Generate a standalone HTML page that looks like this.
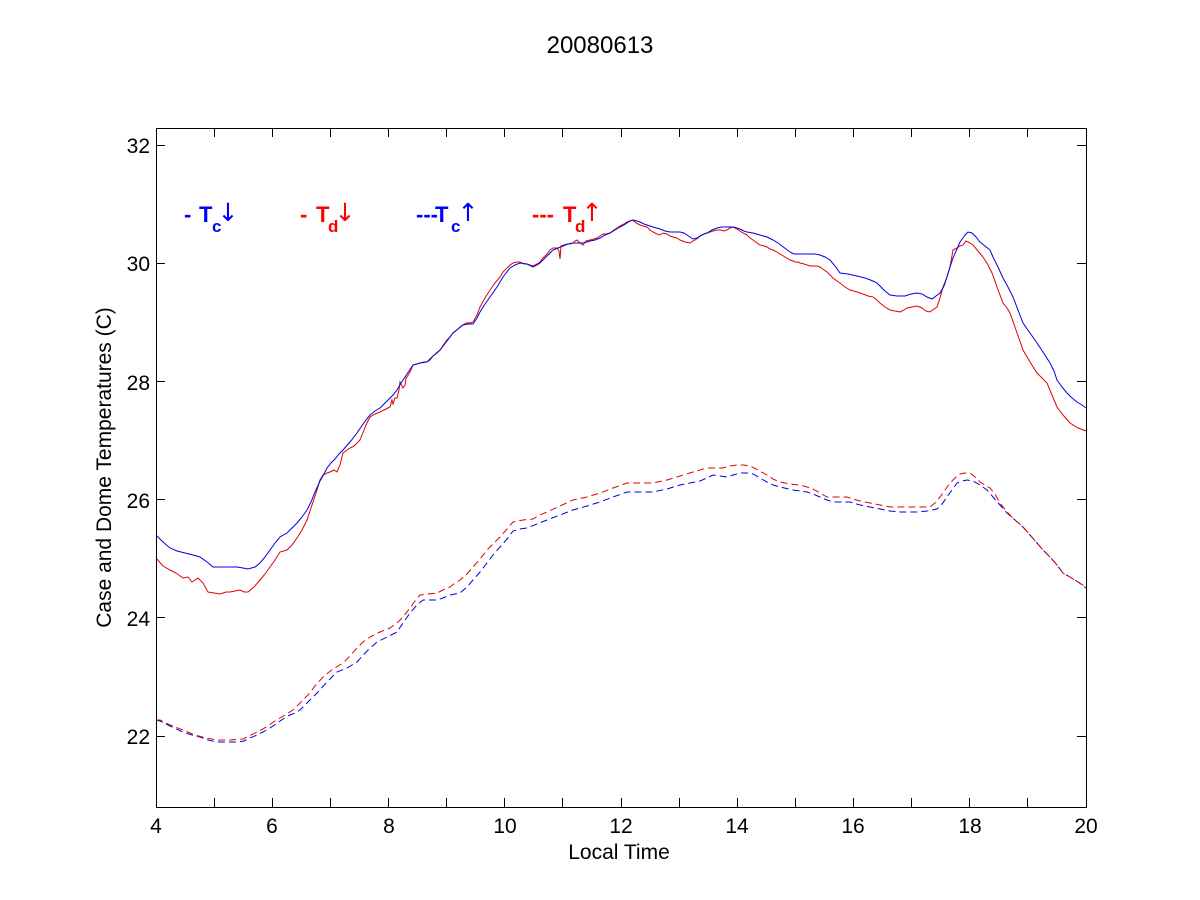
<!DOCTYPE html>
<html>
<head>
<meta charset="utf-8">
<style>
  html, body { margin:0; padding:0; background:#ffffff; }
  svg { display:block; }
  text { font-family: "Liberation Sans", Arial, sans-serif; }
  .arr { font-family: "DejaVu Sans", "Liberation Sans", sans-serif; font-weight: normal; }
</style>
</head>
<body>
<svg width="1200" height="900" viewBox="0 0 1200 900" xmlns="http://www.w3.org/2000/svg">
  <rect x="0" y="0" width="1200" height="900" fill="#ffffff"/>

  <!-- Title -->
  <text x="600" y="53" font-size="24" text-anchor="middle" fill="#000">20080613</text>

  <!-- Axes box -->
  <rect x="156.5" y="128.5" width="930" height="679" fill="none" stroke="#000" stroke-width="1"/>

  <!-- X ticks -->
  <g stroke="#000" stroke-width="1">
    <path d="M214.5 807V798 M272.5 807V798 M330.5 807V798 M388.5 807V798 M446.5 807V798 M504.5 807V798 M562.5 807V798 M621.5 807V798 M679.5 807V798 M737.5 807V798 M795.5 807V798 M853.5 807V798 M911.5 807V798 M969.5 807V798 M1027.5 807V798"/>
    <path d="M214.5 128V137 M272.5 128V137 M330.5 128V137 M388.5 128V137 M446.5 128V137 M504.5 128V137 M562.5 128V137 M621.5 128V137 M679.5 128V137 M737.5 128V137 M795.5 128V137 M853.5 128V137 M911.5 128V137 M969.5 128V137 M1027.5 128V137"/>
    <!-- Y ticks -->
    <path d="M156 736.5H165 M156 617.5H165 M156 499.5H165 M156 381.5H165 M156 263.5H165 M156 145.5H165"/>
    <path d="M1086 736.5H1077 M1086 617.5H1077 M1086 499.5H1077 M1086 381.5H1077 M1086 263.5H1077 M1086 145.5H1077"/>
  </g>

  <!-- X tick labels -->
  <g font-size="21" text-anchor="middle" fill="#000">
    <text x="156" y="833">4</text>
    <text x="272" y="833">6</text>
    <text x="389" y="833">8</text>
    <text x="505" y="833">10</text>
    <text x="621" y="833">12</text>
    <text x="737" y="833">14</text>
    <text x="853" y="833">16</text>
    <text x="970" y="833">18</text>
    <text x="1086" y="833">20</text>
  </g>
  <!-- Y tick labels -->
  <g font-size="21" text-anchor="end" fill="#000">
    <text x="150" y="744">22</text>
    <text x="150" y="626">24</text>
    <text x="150" y="508">26</text>
    <text x="150" y="390">28</text>
    <text x="150" y="271">30</text>
    <text x="150" y="153">32</text>
  </g>

  <!-- Axis labels -->
  <text x="619" y="859" font-size="21" text-anchor="middle" fill="#000">Local Time</text>
  <text transform="translate(111,467.5) rotate(-90)" x="0" y="0" font-size="21" text-anchor="middle" fill="#000">Case and Dome Temperatures (C)</text>

  <!-- Legend-ish text -->
  <g font-weight="bold">
    <text x="184" y="222" font-size="22" fill="#0000ff">-</text>
    <text x="199" y="222" font-size="22" fill="#0000ff">T</text>
    <text x="212" y="232" font-size="17" fill="#0000ff">c</text>
    <text class="arr" x="228" y="221" font-size="25" text-anchor="middle" fill="#0000ff">↓</text>

    <text x="300" y="222" font-size="22" fill="#ff0000">-</text>
    <text x="316" y="222" font-size="22" fill="#ff0000">T</text>
    <text x="328" y="232" font-size="17" fill="#ff0000">d</text>
    <text class="arr" x="345" y="221" font-size="25" text-anchor="middle" fill="#ff0000">↓</text>

    <text x="416" y="222" font-size="22" fill="#0000ff">---</text>
    <text x="435" y="222" font-size="22" fill="#0000ff">T</text>
    <text x="451" y="232" font-size="17" fill="#0000ff">c</text>
    <text class="arr" x="468" y="221" font-size="25" text-anchor="middle" fill="#0000ff">↑</text>

    <text x="532" y="222" font-size="22" fill="#ff0000">---</text>
    <text x="563" y="222" font-size="22" fill="#ff0000">T</text>
    <text x="575" y="232" font-size="17" fill="#ff0000">d</text>
    <text class="arr" x="592" y="221" font-size="25" text-anchor="middle" fill="#ff0000">↑</text>
  </g>

  <!-- Red solid (Td down) -->
  <polyline fill="none" stroke="#e00000" stroke-width="1" points="
    157,559 163,566 170,570 176,573 183,578 188,577 192,582 198,578 203,583 208,592 214,593 220,594 226,592 230,592 235,591 240,590 244,592 248,592 254,587 260,580 265,574 270,567 275,560 280,552 287,550 292,545 297,538 302,530 307,520 312,505 317,490 320,480 323,475 327,473 330,472 334,470 337,472 340,465 343,453 347,450 350,448 354,446 357,443 360,440 362,435 366,425 370,417 375,414 380,412 384,410 388,408 390,407 392,400 393,404 395,398 397,398 399,390 400,382 403,388 405,385 406,378 407,377 410,372 413,365 417,364 420,363 424,362 427,362 430,360 433,356 437,353 440,350 444,344 447,340 450,337 453,333 457,330 460,327 463,325 466,323 470,323 473,322 477,315 480,307 485,298 490,290 495,283 500,277 503,272 507,268 510,265 513,263 517,262 520,262 524,264 527,264 530,265 533,266 537,264 540,262 543,258 547,254 550,250 553,248 557,248 559,251 560,259 561,246 564,245 567,244 570,244 573,243 575,241 577,240 580,243 583,245 586,241 590,240 594,239 597,238 600,236 603,234 606,234 610,233 614,230 617,228 620,226 624,224 627,222 630,221 633,220 636,223 640,225 643,226 647,227 650,230 653,232 657,234 660,235 663,233 667,234 670,236 673,237 677,238 680,240 685,242 690,243 693,241 695,240 698,238 700,236 704,234 707,233 710,232 713,231 717,230 720,230 724,231 727,230 730,228 733,227 737,229 740,231 743,233 747,235 750,238 753,240 757,243 760,245 764,246 767,247 770,249 773,250 777,252 780,254 785,257 790,260 793,261 795,262 798,262 800,263 804,264 807,265 810,266 813,266 817,266 820,267 824,270 827,272 830,275 833,278 837,281 840,283 845,287 850,290 857,292 863,294 868,296 873,297 877,300 880,303 885,307 890,310 895,311 900,312 904,310 907,308 912,307 917,306 922,308 926,311 930,312 934,309 937,307 940,298 943,287 947,277 950,267 953,250 957,248 960,246 963,245 966,241 970,243 973,245 978,251 983,257 988,265 992,273 997,287 1003,303 1007,308 1010,313 1016,330 1023,350 1030,362 1037,373 1042,378 1047,383 1052,395 1057,407 1063,415 1070,423 1078,428 1086,431"/>

  <!-- Blue solid (Tc down) -->
  <polyline fill="none" stroke="#0000e0" stroke-width="1" points="
    156,535 163,542 170,548 177,551 185,553 193,555 200,557 207,562 213,567 219,567 225,567 231,567 237,567 243,568 248,569 255,567 260,563 265,557 270,550 275,543 280,537 287,533 292,528 297,523 302,517 307,510 311,502 315,492 320,481 324,474 327,468 331,463 335,459 339,454 343,450 350,442 357,433 363,424 370,415 375,411 380,408 384,404 388,400 393,395 397,390 401,383 405,377 409,371 413,365 420,363 427,362 433,356 440,350 447,341 453,333 458,329 463,325 468,324 473,324 477,318 480,312 485,304 490,297 497,287 503,277 510,268 515,265 520,263 527,264 533,267 537,265 540,263 544,259 547,256 550,253 553,250 558,248 563,246 568,244 573,243 578,243 583,243 587,242 590,241 595,240 600,238 605,235 610,233 615,230 620,227 624,225 627,223 630,221 633,220 637,221 640,222 644,224 647,225 653,227 660,229 665,231 670,232 675,232 680,232 684,233 687,235 690,237 693,239 697,238 700,236 704,234 707,233 712,230 717,228 721,227 725,227 729,227 733,227 737,228 740,229 744,231 747,232 753,233 760,235 767,237 773,240 778,243 782,246 786,249 790,252 794,254 797,254 803,254 810,254 815,254 820,255 825,257 830,260 835,266 840,273 848,274 857,276 865,278 873,281 877,283 880,286 885,291 890,295 897,296 905,296 911,294 917,293 922,294 927,297 932,299 936,296 940,293 944,286 947,277 950,267 953,258 957,249 960,242 963,238 965,235 968,232 972,233 976,237 980,242 985,246 990,250 993,257 998,267 1003,278 1008,287 1013,297 1018,310 1023,323 1030,333 1037,343 1043,352 1050,363 1054,371 1057,380 1062,387 1067,393 1072,398 1077,402 1082,405 1086,408"/>

  <!-- Blue dashed (Tc up) -->
  <polyline fill="none" stroke="#0000e0" stroke-width="1" stroke-dasharray="7,4" points="
    156,720 160,721 170,726 183,732 192,735 200,737 208,740 217,742 227,742 237,742 244,741 250,738 257,735 263,732 270,728 276,724 283,719 290,715 295,713 300,710 308,702 317,693 327,682 337,672 347,668 357,662 367,651 377,642 387,637 397,632 403,623 410,613 416,606 423,600 430,600 437,600 443,598 450,595 455,594 460,593 467,587 473,580 480,572 487,563 493,555 500,547 507,539 513,531 520,529 527,528 537,524 547,520 560,515 573,510 587,506 600,502 613,497 627,492 640,492 653,492 667,489 680,485 690,483 700,481 707,478 713,475 720,476 727,477 733,475 740,473 747,473 753,474 760,478 767,482 773,485 780,487 793,490 807,492 813,494 820,497 827,500 833,502 841,502 850,502 860,505 870,507 880,509 890,511 900,512 910,512 918,512 927,511 932,510 937,509 942,504 947,497 952,490 957,483 962,481 967,480 973,481 980,485 987,490 993,497 1000,505 1007,513 1015,520 1023,527 1030,535 1037,543 1043,550 1050,557 1057,565 1063,573 1070,577 1078,582 1086,588"/>

  <!-- Red dashed (Td up) -->
  <polyline fill="none" stroke="#e00000" stroke-width="1" stroke-dasharray="7,4" points="
    156,720 160,720 170,725 183,730 195,735 206,738 217,740 230,740 243,739 253,734 263,729 272,723 280,718 293,710 300,703 308,695 315,686 323,677 333,669 343,663 350,656 357,648 363,642 370,637 380,632 390,628 397,623 403,617 410,608 415,601 420,595 428,594 437,593 443,590 450,587 455,583 460,580 467,574 473,567 480,559 487,550 493,544 500,537 507,529 513,522 523,520 533,519 540,515 547,512 560,506 573,500 587,497 600,493 613,488 627,483 640,483 653,483 667,480 680,476 693,472 707,468 715,468 723,468 730,466 737,465 743,465 750,466 758,470 767,475 773,479 780,482 790,484 800,485 807,487 813,489 820,493 827,497 837,497 847,497 853,499 860,501 870,503 880,505 890,507 903,507 917,507 924,507 930,507 935,503 940,497 945,490 950,483 955,478 960,474 965,473 970,473 975,477 980,482 985,485 990,488 995,494 1000,503 1007,512 1015,520 1023,527 1030,535 1037,543 1043,550 1050,557 1057,565 1063,573 1070,577 1078,582 1086,587"/>
</svg>
</body>
</html>
